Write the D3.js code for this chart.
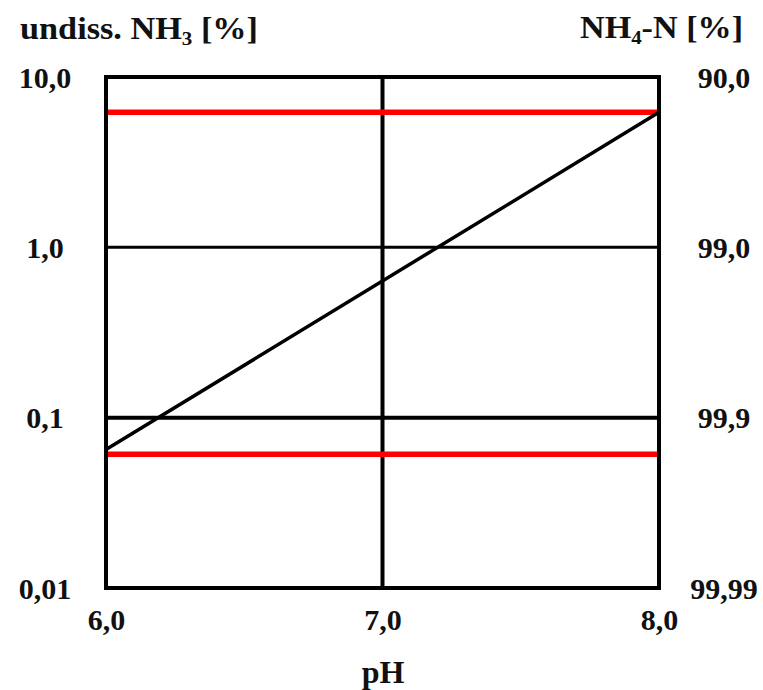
<!DOCTYPE html>
<html>
<head>
<meta charset="utf-8">
<script src="https://cdn.jsdelivr.net/npm/d3@7"></script>
<style>
  body { margin: 0; background: #fff; }
  svg text { font-family: "Liberation Serif", "Times New Roman", serif; font-weight: bold; fill: #111; }
</style>
</head>
<body>
<svg width="763" height="690"></svg>
<script>
// Data
const phTicks = [6, 7, 8];
const phLabels = ["6,0", "7,0", "8,0"];
const nh3Ticks = [0.01, 0.1, 1, 10];
const nh3Labels = ["0,01", "0,1", "1,0", "10,0"];
const nh4Labels = ["99,99", "99,9", "99,0", "90,0"];
const gridPH = [7];
const gridNH3 = [0.1, 1];
const curvePH = [6, 8];
const curveNH3 = [0.065, 6.2];
const limitNH3 = [0.061, 6.2];

// plot box
const box = { left: 106, right: 659, top: 77, bottom: 588 };

const svg = d3.select("svg");

const x = d3.scaleLinear().domain([6, 8]).range([box.left, box.right]);
const y = d3.scaleLog().domain([0.01, 10]).range([box.bottom, box.top]);

// grid lines
svg.selectAll(".hgrid")
  .data(gridNH3)
  .enter()
  .append("line")
  .attr("x1", x(6)).attr("x2", x(8))
  .attr("y1", d => y(d)).attr("y2", d => y(d))
  .attr("stroke", "#000")
  .attr("stroke-width", d => (d < 1 ? 4 : 3));

svg.selectAll(".vgrid")
  .data(gridPH)
  .enter()
  .append("line")
  .attr("x1", d => x(d)).attr("x2", d => x(d))
  .attr("y1", y(10)).attr("y2", y(0.01))
  .attr("stroke", "#000")
  .attr("stroke-width", 4);

// red limit lines
svg.selectAll(".limit")
  .data(limitNH3)
  .enter()
  .append("line")
  .attr("x1", x(6)).attr("x2", x(8))
  .attr("y1", d => y(d)).attr("y2", d => y(d))
  .attr("stroke", "#ff0000")
  .attr("stroke-width", 5.5);

// NH3 line
const line = d3.line().x(d => x(d[0])).y(d => y(d[1]));
svg.append("path")
  .datum(d3.zip(curvePH, curveNH3))
  .attr("d", line)
  .attr("fill", "none")
  .attr("stroke", "#000")
  .attr("stroke-width", 3.5);

// frame
svg.append("rect")
  .attr("x", box.left).attr("y", box.top)
  .attr("width", box.right - box.left).attr("height", box.bottom - box.top)
  .attr("fill", "none")
  .attr("stroke", "#000")
  .attr("stroke-width", 4);

// axes
const leftAxis = svg.append("g")
  .attr("transform", `translate(${box.left},0)`)
  .call(d3.axisLeft(y).tickValues(nh3Ticks).tickFormat((d, i) => nh3Labels[i]).tickSize(0));
leftAxis.select(".domain").remove();
leftAxis.selectAll("text")
  .attr("x", 45 - box.left)
  .attr("dy", "0.34em")
  .attr("text-anchor", "middle")
  .style("font-size", "30px");

const rightAxis = svg.append("g")
  .attr("transform", `translate(${box.right},0)`)
  .call(d3.axisRight(y).tickValues(nh3Ticks).tickFormat((d, i) => nh4Labels[i]).tickSize(0));
rightAxis.select(".domain").remove();
rightAxis.selectAll("text")
  .attr("x", 724 - box.right)
  .attr("dy", "0.34em")
  .attr("text-anchor", "middle")
  .style("font-size", "30px");

const bottomAxis = svg.append("g")
  .attr("transform", `translate(0,${box.bottom})`)
  .call(d3.axisBottom(x).tickValues(phTicks).tickFormat((d, i) => phLabels[i]).tickSize(0));
bottomAxis.select(".domain").remove();
bottomAxis.selectAll("text")
  .attr("y", 42)
  .attr("dy", 0)
  .style("font-size", "30px");

// titles
const t1 = svg.append("text")
  .attr("x", 20).attr("y", 39)
  .attr("textLength", 238)
  .attr("lengthAdjust", "spacingAndGlyphs")
  .style("font-size", "31px");
t1.append("tspan").text("undiss. NH");
t1.append("tspan").text("3").attr("dy", 6).style("font-size", "19px");
t1.append("tspan").text(" [%]").attr("dy", -6);

const t2 = svg.append("text")
  .attr("x", 580).attr("y", 38)
  .attr("textLength", 163)
  .attr("lengthAdjust", "spacingAndGlyphs")
  .style("font-size", "31px");
t2.append("tspan").text("NH");
t2.append("tspan").text("4").attr("dy", 6).style("font-size", "19px");
t2.append("tspan").text("-N [%]").attr("dy", -6);

svg.append("text")
  .attr("x", 383).attr("y", 683)
  .attr("text-anchor", "middle")
  .style("font-size", "32px")
  .text("pH");
</script>
</body>
</html>
